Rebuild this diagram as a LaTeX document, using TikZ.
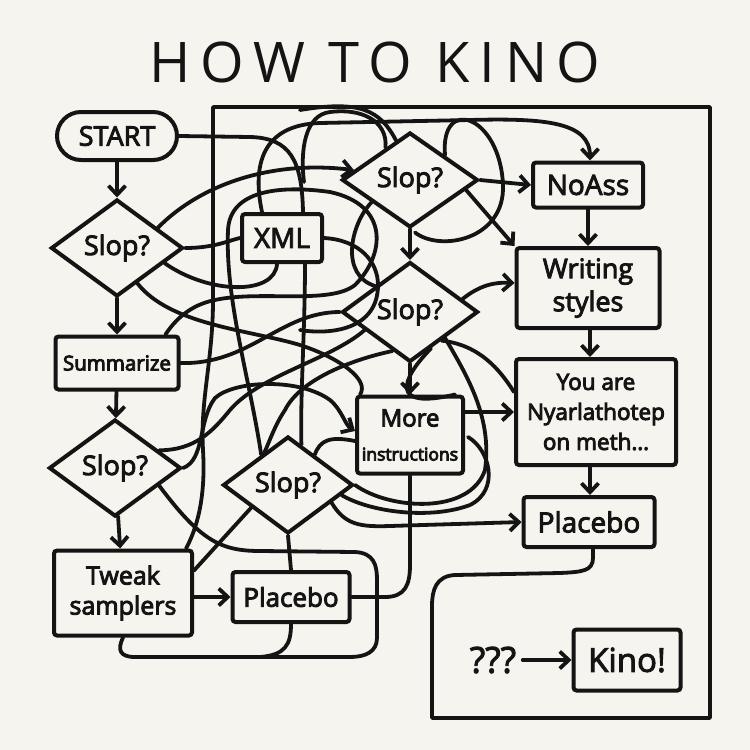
\documentclass[tikz,border=0pt]{standalone}
\usepackage{fontspec}
\setmainfont{Open Sans}
\newfontfamily\titlefont{Open Sans}[LetterSpace=17]
\usetikzlibrary{shapes.geometric,arrows.meta,calc}
\definecolor{bg}{HTML}{F6F4EE}
\definecolor{ink}{HTML}{141414}
\newcommand{\myfs}[2]{\fontsize{#1}{#2}\selectfont}
\newcommand{\heavytext}{\special{pdf:literal direct 2 Tr 0.9 w}}
\tikzset{
 base/.style={draw=ink, line width=4pt, text=ink, inner sep=0pt, align=center},
 box/.style={base, rectangle, rounded corners=3pt},
 dia/.style={base, diamond, minimum width=132pt, minimum height=97pt, font=\myfs{27}{30}},
 wire/.style={draw=ink, line width=3.8pt, line cap=round, line join=round},
 arr/.style={wire, -{Straight Barb[length=9pt,width=17pt]}},
}
\begin{document}
\begin{tikzpicture}[x=1pt,y=-1pt]
\useasboundingbox[fill=bg] (0,0) rectangle (750,750);

% ---------- nodes ----------
\node[text=ink, font=\titlefont\myfs{56}{60}] (title) at (375,62) {HOW TO KINO};
\node[box, rounded corners=24pt, minimum width=120pt, minimum height=48pt, font=\myfs{27}{30}] (start) at (117,136) {\heavytext START};
\node[dia] (s1) at (117,248) {\heavytext Slop?};
\node[box, minimum width=123pt, minimum height=53pt, font=\myfs{20.5}{24}] (summ) at (117,363) {\heavytext Summarize};
\node[dia] (s2) at (115,468) {\heavytext Slop?};
\node[box, minimum width=138pt, minimum height=85pt, font=\myfs{25}{30}] (tweak) at (123,593) {\heavytext Tweak\\\heavytext samplers};
\node[box, minimum width=117pt, minimum height=50pt, font=\myfs{26}{30}] (pl1) at (291,597) {\heavytext Placebo};
\node[dia, minimum width=130pt] (s3) at (288,485) {\heavytext Slop?};
\node[box, minimum width=80pt, minimum height=48pt, font=\myfs{28}{30}] (xml) at (282,238) {\heavytext XML};
\node[dia, minimum width=136pt, minimum height=95pt] (s4) at (410,180) {\heavytext Slop?};
\node[dia, minimum width=136pt, minimum height=100pt] (s5) at (410,312) {\heavytext Slop?};
\node[box, minimum width=106pt, minimum height=77pt, font=\myfs{17.5}{34}] (more) at (410,435) {{\heavytext\myfs{24}{28}More}\\\heavytext instructions};
\node[box, minimum width=110pt, minimum height=45pt, font=\myfs{28}{30}] (noass) at (588,185) {\heavytext NoAss};
\node[box, minimum width=143pt, minimum height=80pt, font=\myfs{27}{33}] (writ) at (588,288) {\heavytext Writing\\\heavytext styles};
\node[box, minimum width=160pt, minimum height=106pt, font=\myfs{22.5}{30}] (nyar) at (596,412) {\heavytext You are\\\heavytext Nyarlathotep\\\heavytext on meth\ldots};
\node[box, minimum width=131pt, minimum height=50pt, font=\myfs{28}{30}] (pl2) at (589,522) {\heavytext Placebo};
\node[text=ink, font=\myfs{36}{40}] (q) at (493,660) {\heavytext ???};
\node[box, minimum width=107pt, minimum height=61pt, font=\myfs{33}{36}] (kino) at (627,660) {\heavytext Kino!};

% ---------- main flow ----------
\draw[arr] (start) -- (s1);
\draw[arr] (s1) -- (summ);
\draw[arr] (summ) -- (s2);
\draw[arr] (s2) -- (tweak);
\draw[arr] (tweak.east |- pl1.west) -- (pl1.west);
\draw[arr] (s4.east) -- (noass.west);
\draw[arr] (noass) -- (writ);
\draw[arr] (writ.south -| 590,0) -- (nyar.north -| 590,0);
\draw[arr] (nyar.south -| 590,0) -- (pl2.north -| 590,0);
\draw[arr] (s4) -- (s5);
\draw[arr] (s5) -- (more);
\draw[arr] (more.east |- nyar.west) -- (nyar.west);
\draw[arr] ($(q.east)+(3,0)$) -- (kino);
\draw[arr] ($(s4.east)!0.2!(s4.south)$) -- (writ.north west);
\draw[arr] ($(s5.east)!0.25!(s5.north)$) .. controls (480,285) and (495,282) .. ($(writ.west)+(0,-5)$);

% ---------- big frame ----------
\draw[wire] (pl2.south -| 593,0) -- (593,558) .. controls (593,571) and (582,572) .. (560,573)
  -- (455,575) .. controls (436,576) and (432,590) .. (432,606) -- (432,718) -- (710,718)
  -- (710,107) -- (213,107) -- (213,300) .. controls (213,360) and (200,400) .. (203,450)
  .. controls (206,500) and (196,530) .. ($(tweak.north east)+(-8,0)$);

% ---------- spaghetti ----------
\draw[wire] (start.east) -- (250,137) .. controls (290,138) and (302,160) .. ($(xml.north)+(21,0)$);
\draw[arr] ($(xml.north)+(-20,0)$) .. controls (252,165) and (262,125) .. (320,123)
  -- (470,120) .. controls (545,118) and (590,122) .. (noass.north -| 590,0);
\draw[arr] ($(s1.east)!0.4!(s1.north)$) .. controls (200,185) and (270,160) .. ($(s4.west)!0.2!(s4.north)$);
\draw[wire] (s1.east) .. controls (215,248) and (230,240) .. (xml.west);
\draw[wire] ($(s1.east)!0.3!(s1.south)$) .. controls (210,295) and (275,295) .. ($(xml.south)+(-5,0)$);
\draw[wire] ($(s1.south)!0.3!(s1.east)$) .. controls (170,325) and (250,330) .. (300,345)
  .. controls (340,358) and (370,380) .. ($(more.north west)+(5,0)$);
\draw[wire] (summ.east) .. controls (250,365) and (280,312) .. (s5.west);
\draw[arr] (s2.east) .. controls (205,460) and (198,420) .. (215,398)
  .. controls (235,380) and (300,378) .. (330,400) .. controls (342,410) and (345,425) .. ($(more.west)+(0,-4)$);
\draw[wire] ($(s2.east)!0.35!(s2.south)$) .. controls (200,540) and (220,551) .. (260,551)
  -- (355,552) .. controls (374,553) and (377,565) .. (377,580) -- (377,638)
  .. controls (377,652) and (365,657) .. (350,657) -- (135,657) .. controls (120,657) and (117,650) .. (tweak.south);
\draw[wire] (pl1.south) .. controls (291,645) and (285,655) .. (260,657);
\draw[wire] ($(tweak.north east)+(0,22)$) -- ($(s3.west)!0.45!(s3.south)$);
\draw[wire] (s3.south) -- (pl1.north);
\draw[wire] (pl1.east) -- (385,597) .. controls (405,597) and (410,585) .. (410,565) -- (more.south);
\draw[wire] (s3.east) .. controls (390,510) and (470,515) .. (485,470)
  .. controls (492,420) and (470,380) .. ($(s5.south)!0.5!(s5.east)$);
\draw[wire] ($(s5.south)!0.3!(s5.east)$) .. controls (400,380) and (390,410) .. ($(more.north east)+(-10,0)$);
\draw[wire] ($(s5.east)!0.55!(s5.south)$) .. controls (480,345) and (500,370) .. ($(nyar.west)+(0,-20)$);
\draw[arr] ($(s3.east)!0.35!(s3.south)$) .. controls (345,525) and (360,527) .. (390,526) -- (pl2.west);
\draw[wire] ($(s3.east)!0.2!(s3.south)$) .. controls (370,512) and (430,520) .. (470,505)
  .. controls (500,490) and (490,450) .. (468,437);
\draw[wire] ($(s3.north)!0.4!(s3.east)$) .. controls (320,440) and (330,436) .. ($(more.west)+(0,6)$);
\draw[wire] ($(s5.west)!0.35!(s5.south)$) .. controls (330,360) and (260,375) .. (230,410)
  .. controls (212,432) and (195,450) .. ($(s2.east)!0.35!(s2.north)$);
\draw[wire] ($(s5.south)!0.25!(s5.west)$) .. controls (350,360) and (300,380) .. (285,410)
  .. controls (275,425) and (270,440) .. ($(s3.north)!0.35!(s3.west)$);
\draw[wire] ($(xml.south)+(23,0)$) .. controls (305,330) and (300,400) .. ($(s3.north)!0.2!(s3.east)$);
\draw[wire] ($(s3.west)!0.6!(s3.north)$) .. controls (250,380) and (225,300) .. (228,230)
  .. controls (230,190) and (280,185) .. (330,192) .. controls (390,205) and (385,255) .. (355,285)
  .. controls (330,305) and (260,290) .. (215,300) .. controls (190,305) and (175,320) .. ($(summ.north east)+(-15,0)$);
\draw[wire] ($(s4.north)!0.5!(s4.east)$) .. controls (440,95) and (500,115) .. (503,185)
  .. controls (505,240) and (440,252) .. ($(s4.south)+(5,3)$);
\draw[wire] ($(s4.west)!0.45!(s4.south)$) .. controls (350,225) and (340,275) .. ($(s5.west)!0.5!(s5.north)$);
\draw[wire] ($(s4.north)!0.35!(s4.west)$) .. controls (388,120) and (360,108) .. (330,112)
  .. controls (305,115) and (300,150) .. ($(xml.north)+(22,-30)$);
\draw[wire] (xml.east) .. controls (360,240) and (378,262) .. (378,285)
  .. controls (378,330) and (330,335) .. (300,330);
\draw[wire] ($(s4.north)!0.2!(s4.west)$) .. controls (380,110) and (360,100) .. (300,110);
\end{tikzpicture}
\end{document}
